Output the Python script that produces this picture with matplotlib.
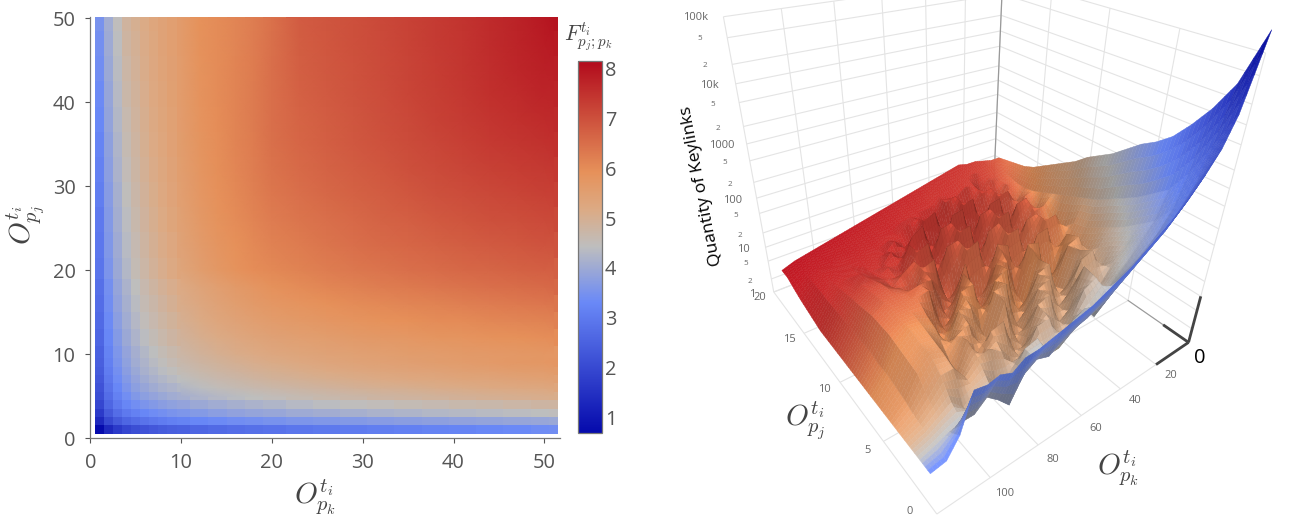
import numpy as np
import matplotlib
matplotlib.use("Agg")
import matplotlib.pyplot as plt
from matplotlib.colors import LinearSegmentedColormap, Normalize
from mpl_toolkits.mplot3d import proj3d

plt.rcParams['font.family'] = ['Open Sans', 'DejaVu Sans']
plt.rcParams['mathtext.fontset'] = 'cm'

# ---------- data: heatmap ----------
heat_x = [1,2,3,4,5,6,7,8,9,10,12,14,16,18,20,23,26,29,32,35,38,41,44,47,50,51]
heat_y = [1,2,3,4,5,6,7,8,9,10,12,14,16,18,20,23,26,29,32,35,38,41,44,47,50]
heat_f = [
[.7,1.35,1.7,1.95,2.1,2.2,2.3,2.38,2.45,2.5,2.6,2.68,2.75,2.8,2.85,2.92,2.98,3.03,3.08,3.13,3.18,3.22,3.27,3.32,3.38,3.4],
[1.35,2.0,2.35,2.6,2.75,2.87,2.97,3.05,3.12,3.18,3.27,3.34,3.4,3.45,3.5,3.56,3.6,3.65,3.7,3.74,3.78,3.82,3.86,3.9,3.93,3.95],
[1.7,2.35,2.75,3.0,3.15,3.27,3.37,3.45,3.52,3.58,3.67,3.75,3.82,3.88,3.93,4.0,4.06,4.12,4.17,4.22,4.27,4.31,4.35,4.39,4.43,4.45],
[1.95,2.6,3.0,3.25,3.42,3.55,3.65,3.74,3.81,3.87,3.97,4.05,4.12,4.18,4.24,4.32,4.39,4.45,4.5,4.55,4.6,4.65,4.69,4.74,4.78,4.8],
[2.1,2.75,3.15,3.42,3.62,3.76,3.87,3.96,4.04,4.1,4.2,4.29,4.37,4.44,4.5,4.59,4.66,4.72,4.78,4.83,4.88,4.93,4.97,5.02,5.06,5.08],
[2.2,2.87,3.27,3.55,3.76,3.92,4.03,4.13,4.21,4.28,4.39,4.49,4.57,4.64,4.7,4.79,4.86,4.93,4.99,5.04,5.09,5.14,5.19,5.23,5.27,5.29],
[2.3,2.97,3.37,3.65,3.87,4.03,4.16,4.26,4.35,4.42,4.54,4.64,4.72,4.8,4.87,4.96,5.03,5.1,5.16,5.22,5.27,5.32,5.36,5.41,5.45,5.47],
[2.38,3.05,3.45,3.74,3.96,4.13,4.26,4.38,4.47,4.55,4.67,4.77,4.86,4.94,5.01,5.1,5.18,5.25,5.31,5.37,5.42,5.47,5.52,5.57,5.61,5.63],
[2.45,3.12,3.52,3.81,4.04,4.21,4.35,4.47,4.57,4.65,4.78,4.89,4.98,5.06,5.13,5.23,5.31,5.38,5.44,5.5,5.56,5.61,5.66,5.71,5.75,5.77],
[2.5,3.18,3.58,3.87,4.1,4.28,4.42,4.55,4.65,4.74,4.88,4.99,5.09,5.17,5.25,5.33,5.4,5.46,5.52,5.57,5.61,5.65,5.68,5.71,5.74,5.75],
[2.6,3.27,3.67,3.97,4.2,4.39,4.54,4.67,4.78,4.88,5.03,5.15,5.26,5.35,5.43,5.51,5.58,5.64,5.7,5.75,5.8,5.84,5.88,5.92,5.96,5.98],
[2.68,3.34,3.75,4.05,4.29,4.49,4.64,4.77,4.89,4.99,5.15,5.3,5.41,5.51,5.6,5.69,5.76,5.83,5.89,5.94,5.99,6.03,6.08,6.12,6.16,6.18],
[2.75,3.4,3.82,4.12,4.37,4.57,4.72,4.86,4.98,5.09,5.26,5.41,5.54,5.65,5.75,5.84,5.92,5.99,6.05,6.11,6.16,6.21,6.26,6.31,6.36,6.38],
[2.8,3.45,3.88,4.18,4.44,4.64,4.8,4.94,5.06,5.17,5.35,5.51,5.65,5.77,5.88,6.0,6.1,6.17,6.24,6.3,6.36,6.42,6.47,6.52,6.57,6.59],
[2.9,3.55,3.97,4.28,4.55,4.75,4.92,5.06,5.2,5.33,5.55,5.72,5.86,5.98,6.05,6.15,6.25,6.33,6.4,6.47,6.53,6.59,6.64,6.69,6.74,6.75],
[2.95,3.6,4.02,4.33,4.6,4.8,4.98,5.12,5.26,5.4,5.62,5.79,5.93,6.05,6.17,6.28,6.38,6.48,6.56,6.63,6.7,6.77,6.83,6.88,6.94,6.95],
[3.0,3.65,4.07,4.4,4.66,4.86,5.03,5.18,5.32,5.46,5.69,5.86,6.0,6.13,6.26,6.38,6.48,6.58,6.68,6.76,6.84,6.92,6.98,7.03,7.09,7.11],
[3.08,3.7,4.12,4.46,4.71,4.91,5.08,5.23,5.37,5.51,5.74,5.91,6.06,6.2,6.34,6.48,6.59,6.69,6.79,6.88,6.97,7.05,7.12,7.18,7.24,7.26],
[3.15,3.75,4.17,4.52,4.76,4.96,5.12,5.27,5.41,5.54,5.78,5.95,6.1,6.25,6.42,6.56,6.68,6.78,6.88,6.98,7.07,7.16,7.24,7.31,7.37,7.39],
[3.22,3.8,4.22,4.58,4.8,5.0,5.16,5.3,5.44,5.57,5.81,5.97,6.13,6.28,6.46,6.62,6.74,6.85,6.96,7.06,7.16,7.26,7.35,7.43,7.5,7.52],
[3.28,3.85,4.27,4.63,4.84,5.03,5.19,5.33,5.46,5.59,5.83,5.98,6.14,6.29,6.48,6.67,6.79,6.9,7.01,7.12,7.23,7.34,7.44,7.53,7.61,7.63],
[3.34,3.9,4.32,4.7,4.88,5.06,5.22,5.35,5.48,5.6,5.85,5.99,6.14,6.29,6.48,6.71,6.83,6.94,7.05,7.17,7.28,7.4,7.52,7.62,7.71,7.73],
[3.4,3.95,4.37,4.75,4.92,5.09,5.25,5.38,5.5,5.61,5.87,6.0,6.13,6.27,6.47,6.74,6.86,6.96,7.07,7.19,7.31,7.43,7.56,7.68,7.79,7.81],
[3.45,4.0,4.41,4.8,4.96,5.12,5.27,5.4,5.51,5.62,5.88,6.0,6.12,6.26,6.46,6.77,6.88,6.98,7.09,7.21,7.33,7.44,7.58,7.72,7.86,7.89],
[3.5,4.05,4.45,4.85,5.0,5.15,5.3,5.42,5.52,5.62,5.9,6.0,6.12,6.25,6.45,6.8,6.9,7.0,7.1,7.22,7.34,7.45,7.6,7.75,7.92,8.0],
]
heat_xticks = [0,10,20,30,40,50]
heat_yticks = [0,10,20,30,40,50]
cbar_ticks = [1,2,3,4,5,6,7,8]

# ---------- data: surface ----------
surf_x = [0,5,10,15,20,25,30,35,40,45,50,55,60,65,70,75,80,85,90,95,100,105,110,116]
surf_y_front = [0,.1,.1,.2,.3,.4,.5,.6,.7,.8,.9,1,1.1,1.2,1.3,1.4,1.5,1.5,1.5,1.5,1.5,1.5,1.5,1.5]
surf_y_back = 19.5
surf_log_count = [
[5.3,4.2,3.75,3.4,3.1,2.85,2.65,2.45,2.25,2.1,1.95,1.8,1.7,1.6,1.5,1.4,1.35,1.2,1.3,1.25,1.3,.6,.25,.2],
[4.5,3.6,3.05,2.7,2.4,2.2,2.0,1.8,1.6,1.45,1.3,1.2,1.05,.85,.9,.7,.2,.45,.65,.45,.45,.4,.3,.2],
[4.05,3.05,2.5,2.15,1.9,1.7,1.55,1.3,.95,1.2,1.05,.6,.55,1.0,.9,.35,.25,.6,.55,.35,.6,.45,.3,.2],
[3.7,2.65,2.15,1.85,1.55,1.3,1.0,1.45,1.3,.7,.45,1.0,.95,.35,.3,.75,.9,.85,.6,.9,.9,.6,.35,.2],
[3.4,2.45,1.95,1.6,1.35,1.0,.85,1.5,.7,.5,1.2,1.1,.3,.35,1.05,.95,.4,1.0,.45,1.0,1.1,.85,.45,.2],
[3.2,2.25,1.75,1.45,1.05,1.5,1.4,.75,.55,1.25,1.15,.4,.35,1.15,.4,.35,1.0,.9,.7,1.05,1.1,.9,.5,.2],
[3.05,2.1,1.6,1.25,.95,1.35,.6,.55,1.3,1.2,.5,.25,1.25,1.2,.45,1.05,1.1,.45,.95,1.1,1.15,.95,.55,.2],
[2.85,1.95,1.45,1.0,1.4,1.3,.5,.4,1.25,.35,.3,1.3,1.15,.3,1.25,1.2,.45,.55,1.05,1.15,1.15,1.0,.55,.2],
[2.65,1.8,1.3,.8,1.3,.5,.45,1.35,1.4,.45,1.2,1.25,.4,.5,1.3,.4,.35,1.25,1.2,1.15,1.15,1.0,.6,.2],
[2.5,1.7,1.25,.75,.7,1.35,1.3,.55,.4,1.3,1.4,.5,.4,1.25,.5,.45,1.2,1.2,1.15,1.15,1.15,1.0,.6,.2],
[2.35,1.6,1.0,1.35,1.3,.5,.4,1.35,1.3,.4,.35,1.4,1.3,.45,.4,1.35,1.25,.75,1.05,1.15,1.1,.95,.6,.2],
[2.15,1.5,.9,.6,1.3,1.25,.45,.35,1.4,1.3,.5,.4,1.35,1.3,.5,.55,1.25,1.1,.9,1.1,1.05,.9,.6,.2],
[2.0,1.4,1.2,1.15,.6,.5,1.35,1.3,.5,.35,1.35,1.3,.5,.5,1.3,1.2,.75,.85,.9,1.0,1.0,.85,.6,.2],
[1.85,1.3,.85,1.3,1.25,.45,.45,1.35,1.3,.5,.45,1.35,1.3,.55,.6,1.2,.75,.9,.8,.9,.9,.8,.6,.2],
[1.7,1.2,1.15,.55,.5,1.3,1.25,.5,.45,1.35,1.3,.55,.5,1.3,1.15,.65,1.0,.75,.75,.8,.8,.75,.6,.25],
[1.55,1.15,.85,1.2,1.15,.55,.55,1.3,1.25,.5,.55,1.3,1.2,.6,.7,1.0,.8,.75,.7,.75,.75,.7,.6,.3],
[1.45,1.15,1.15,.75,1.2,1.15,.7,.7,1.3,1.25,.7,.75,1.1,1.05,.9,.85,.75,.75,.7,.7,.7,.7,.6,.35],
[1.4,1.2,1.1,1.2,.9,1.2,1.25,1.1,1.1,1.2,1.05,1.05,1.0,.95,.85,.85,.8,.75,.7,.7,.65,.65,.6,.42],
[1.35,1.25,1.3,1.25,1.3,1.3,1.35,1.3,1.3,1.2,1.15,1.1,1.05,1.0,.95,.9,.85,.8,.75,.7,.7,.65,.6,.5],
[1.3,1.3,1.35,1.4,1.4,1.45,1.4,1.35,1.3,1.25,1.2,1.15,1.1,1.05,1.0,.95,.9,.85,.8,.75,.7,.65,.6,.5],
]
surf_f = [
[.7,1.9,2.3,2.5,2.6,2.7,2.8,2.85,2.9,2.95,3.0,3.05,3.1,3.1,3.15,3.15,3.2,3.2,3.2,3.25,3.25,3.25,3.3,3.3],
[1.5,2.6,3.0,3.2,3.35,3.5,3.6,3.7,3.8,3.85,3.9,3.95,4.0,4.05,4.1,4.15,4.2,4.2,4.25,4.3,4.3,4.35,4.4,4.4],
[2.1,3.1,3.45,3.7,3.9,4.05,4.2,4.3,4.4,4.45,4.5,4.55,4.6,4.65,4.7,4.75,4.8,4.85,4.9,4.9,4.95,5.0,5.0,5.0],
[2.6,3.45,3.85,4.1,4.3,4.5,4.6,4.7,4.8,4.85,4.9,4.95,5.0,5.05,5.1,5.15,5.2,5.25,5.3,5.3,5.35,5.4,5.4,5.4],
[3.0,3.8,4.2,4.5,4.7,4.85,5.0,5.05,5.1,5.15,5.2,5.25,5.3,5.35,5.4,5.45,5.5,5.55,5.6,5.6,5.65,5.7,5.7,5.7],
[3.4,4.1,4.5,4.8,5.0,5.1,5.2,5.25,5.3,5.35,5.4,5.45,5.5,5.55,5.6,5.6,5.65,5.7,5.7,5.75,5.75,5.8,5.8,5.8],
[3.7,4.35,4.8,5.0,5.2,5.3,5.4,5.45,5.5,5.55,5.6,5.6,5.65,5.7,5.7,5.75,5.75,5.8,5.8,5.85,5.85,5.9,5.9,5.9],
[4.0,4.6,5.1,5.45,5.6,5.7,5.75,5.8,5.85,5.9,5.9,5.95,6.0,6.0,6.05,6.05,6.1,6.1,6.15,6.15,6.2,6.2,6.2,6.2],
[4.3,4.8,5.35,5.75,5.85,5.95,6.0,6.05,6.1,6.15,6.15,6.2,6.2,6.25,6.25,6.3,6.3,6.35,6.35,6.4,6.4,6.45,6.45,6.45],
[4.5,5.0,5.6,6.0,6.1,6.2,6.25,6.3,6.3,6.35,6.4,6.4,6.45,6.45,6.5,6.5,6.55,6.55,6.6,6.6,6.65,6.65,6.7,6.7],
[4.8,5.25,5.8,6.25,6.35,6.4,6.45,6.5,6.55,6.6,6.6,6.65,6.65,6.7,6.7,6.75,6.75,6.8,6.8,6.85,6.9,6.9,6.95,6.95],
[5.0,5.45,6.0,6.4,6.5,6.55,6.65,6.7,6.75,6.75,6.8,6.85,6.85,6.9,6.9,6.95,6.95,7.0,7.05,7.05,7.1,7.1,7.15,7.15],
[5.2,5.6,6.15,6.6,6.7,6.8,6.85,6.9,6.95,7.0,7.0,7.05,7.05,7.1,7.1,7.15,7.2,7.2,7.25,7.25,7.3,7.3,7.35,7.35],
[5.4,5.8,6.3,6.75,6.85,6.95,7.0,7.05,7.1,7.15,7.15,7.2,7.2,7.25,7.3,7.3,7.35,7.35,7.4,7.4,7.45,7.45,7.5,7.5],
[5.7,6.0,6.5,6.9,7.0,7.05,7.1,7.15,7.2,7.25,7.25,7.3,7.35,7.35,7.4,7.4,7.45,7.45,7.5,7.5,7.55,7.55,7.6,7.6],
[5.9,6.2,6.6,6.95,7.05,7.15,7.2,7.25,7.3,7.3,7.35,7.4,7.4,7.45,7.45,7.5,7.55,7.55,7.6,7.6,7.65,7.65,7.7,7.7],
[6.1,6.4,6.8,7.05,7.15,7.2,7.25,7.3,7.35,7.4,7.4,7.45,7.5,7.5,7.55,7.55,7.6,7.6,7.65,7.65,7.7,7.7,7.75,7.75],
[6.3,6.6,6.9,7.15,7.25,7.3,7.35,7.4,7.45,7.45,7.5,7.55,7.55,7.6,7.65,7.65,7.7,7.7,7.75,7.75,7.8,7.8,7.85,7.85],
[6.5,6.8,7.05,7.2,7.3,7.35,7.4,7.45,7.5,7.5,7.55,7.6,7.6,7.65,7.7,7.7,7.75,7.75,7.8,7.8,7.85,7.85,7.9,7.9],
[6.7,7.0,7.2,7.3,7.4,7.45,7.5,7.55,7.6,7.6,7.65,7.7,7.7,7.75,7.8,7.8,7.85,7.85,7.9,7.9,7.95,7.95,8.0,8.0],
]
x3_ticks = [20,40,60,80,100]
y3_ticks = [0,5,10,15,20]
z3_ticks = [1,2,5,10,20,50,100,200,500,1000,2000,5000,10000,20000,50000,100000]
z3_labels = ['1','2','5','10','2','5','100','2','5','1000','2','5','10k','2','5','100k']

W, H = 1290, 524
fig = plt.figure(figsize=(W/100, H/100), dpi=100)
def rect(l, t, r, b):
    return [l/W, 1-b/H, (r-l)/W, (b-t)/H]

cmap = LinearSegmentedColormap.from_list('rdbu_rev', [
    (0.0, (5/255,10/255,172/255)), (0.35, (106/255,137/255,247/255)),
    (0.5, (190/255,190/255,190/255)), (0.6, (220/255,170/255,132/255)),
    (0.7, (230/255,145/255,90/255)), (1.0, (178/255,10/255,28/255))], N=512)
norm = Normalize(0.7, 8.16)

def edges(c, lo, hi):
    c = np.asarray(c, float)
    return np.r_[lo, (c[1:]+c[:-1])/2, hi]

# ---------- heatmap ----------
ax = fig.add_axes(rect(90.3, 17, 560.4, 438))
F = np.array(heat_f)
mesh = ax.pcolormesh(edges(heat_x,0.5,51.5), edges(heat_y,0.5,51), F, cmap=cmap, norm=norm, linewidth=0)
ix, iy = heat_x.index(10), heat_y.index(5)
ax.pcolormesh(np.array(heat_x)[ix:], np.array(heat_y)[iy:], F[iy:, ix:], cmap=cmap, norm=norm, shading='gouraud')
ax.set_xlim(0, 51.77)
ax.set_ylim(0, 50.17)
ax.set_xticks(heat_xticks)
ax.set_yticks(heat_yticks)
ax.tick_params(labelsize=14.4, colors='#555555', length=3.6, width=0.8, pad=7)
for s in ('top','right'):
    ax.spines[s].set_visible(False)
for s in ('left','bottom'):
    ax.spines[s].set_color('#777777')
    ax.spines[s].set_linewidth(0.9)
fig.text(315/W, 1-497/H, r'$O_{p_k}^{t_i}$', fontsize=21, color='#444444', ha='center', va='center')
fig.text(26/W, 1-225/H, r'$O_{p_j}^{t_i}$', fontsize=21, color='#444444', ha='center', va='center', rotation=90)

# ---------- colorbar ----------
cax = fig.add_axes(rect(578, 60.5, 602, 432.5))
cb = fig.colorbar(mesh, cax=cax, ticks=cbar_ticks)
cb.ax.tick_params(labelsize=14.4, colors='#555555', length=0, pad=2)
cb.outline.set_edgecolor('#777777')
cb.outline.set_linewidth(0.9)
fig.text(588/W, 1-37/H, r'$F_{p_j;p_k}^{t_i}$', fontsize=15.5, color='#444444', ha='center', va='center')

# ---------- 3D ----------
XMAX, YMAX, ZMAX = 120, 20, 5
ax3 = fig.add_axes([0.5, 0.0, 0.5, 1.0], projection='3d', computed_zorder=False)
ax3.view_init(30.6628, -128.0362, -1.5259)
ax3.set_proj_type('persp', focal_length=0.2071)
bx, by, bz = 1.0137, 1.0483, 0.9910
ax3.set_box_aspect((bx, by, bz))
VL = 0.3
S, tx, ty = 3011.13, 976.14, 193.68
ax3.set_position(rect(-S*VL+tx, -S*VL+ty, S*VL+tx, S*VL+ty))

GRID = '#e4e4e4'
kw = dict(color=GRID, lw=0.8, zorder=1, solid_capstyle='butt')
zlog = np.log10(z3_ticks)
for xv in x3_ticks + [XMAX]:
    ax3.plot([xv,xv],[YMAX,YMAX],[0,ZMAX],**kw)
    ax3.plot([xv,xv],[0,YMAX],[0,0],**kw)
for yv in y3_ticks:
    ax3.plot([0,0],[yv,yv],[0,ZMAX],**kw)
    ax3.plot([0,XMAX],[yv,yv],[0,0],**kw)
for zv in zlog:
    ax3.plot([0,XMAX],[YMAX,YMAX],[zv,zv],**kw)
    ax3.plot([0,0],[0,YMAX],[zv,zv],**kw)
ax3.plot([0,0],[YMAX,YMAX],[0,ZMAX],color='#999999',lw=0.9,zorder=1.5)
ax3.plot([0,0],[0,YMAX/4],[0,0],color='#999999',lw=0.8,zorder=1.5)
for seg in ([(0,0,0),(20,0,0)],[(0,0,0),(0,2,0)],[(0,0,0),(0,0,1)]):
    a = np.array(seg).T
    ax3.plot(a[0],a[1],a[2],color='#444444',lw=2,zorder=1.6,solid_capstyle='butt')

# surface with per-vertex colour: each facet is split so the colour ramps across it
def split(A, n=4):
    A = np.asarray(A, float)
    r = np.arange(0, A.shape[0]-1+1e-9, 1/n)
    c = np.arange(0, A.shape[1]-1+1e-9, 1/n)
    r0 = np.minimum(r.astype(int), A.shape[0]-2); c0 = np.minimum(c.astype(int), A.shape[1]-2)
    fr = (r-r0)[:,None]; fc = (c-c0)[None,:]
    a = A[np.ix_(r0,c0)]; b = A[np.ix_(r0,c0+1)]; d = A[np.ix_(r0+1,c0)]; e = A[np.ix_(r0+1,c0+1)]
    return a*(1-fr)*(1-fc)+b*(1-fr)*fc+d*fr*(1-fc)+e*fr*fc

nrows = len(surf_log_count)
front = np.array(surf_y_front)
SX = np.tile(np.array(surf_x, float), (nrows, 1))
SY = np.array([front + (surf_y_back-front)*r/(nrows-1) for r in range(nrows)])
RX, RY, RZ, RF = split(SX), split(SY), split(surf_log_count), split(surf_f)
PX, PY, PZ = RX/XMAX*bx, RY/YMAX*by, RZ/ZMAX*bz
d1 = np.stack([PX[1:,1:]-PX[:-1,:-1], PY[1:,1:]-PY[:-1,:-1], PZ[1:,1:]-PZ[:-1,:-1]], -1)
d2 = np.stack([PX[:-1,1:]-PX[1:,:-1], PY[:-1,1:]-PY[1:,:-1], PZ[:-1,1:]-PZ[1:,:-1]], -1)
nrm = np.cross(d1, d2)
nrm /= np.linalg.norm(nrm, axis=-1, keepdims=True)+1e-12
nrm *= np.sign(nrm[...,2:3]+1e-12)
light = np.array([0.2,-0.25,1.0]); light /= np.linalg.norm(light)
lam = np.clip((nrm*light).sum(-1), 0, 1)
Fc = 0.25*(RF[1:,1:]+RF[:-1,:-1]+RF[1:,:-1]+RF[:-1,1:])
base = np.interp(Fc, [3, 5], [0.78, 0.52])
shade = np.clip(base+0.6*lam, 0, 1.06)
cols = cmap(norm(Fc))
cols[...,:3] = np.clip(cols[...,:3]*shade[...,None], 0, 1)
ax3.plot_surface(RX, RY, RZ, facecolors=cols, rstride=1, cstride=1, shade=False,
                 linewidth=0.3, antialiased=True, zorder=3)

ax3.set_xticks([]); ax3.set_yticks([]); ax3.set_zticks([])
ax3.set_axis_off()
ax3.patch.set_visible(False)
ax3.set_xlim(XMAX, 0); ax3.set_ylim(0, YMAX); ax3.set_zlim(0, ZMAX)
ax3.viewLim.intervalx = (-VL, VL)
ax3.viewLim.intervaly = (-VL, VL)

# tick labels: data positions pushed through the axes' own projection, drawn as flat text
TICK = '#666666'
M3 = ax3.get_proj()
def label3(xv, yv, zv, s, size):
    px, py, _ = proj3d.proj_transform(xv, yv, zv, M3)
    ax3.text2D(px, py, s, transform=ax3.transData, fontsize=size, color=TICK,
               ha='center', va='center', zorder=6)
for xv in x3_ticks:
    label3(xv, -1.1, 0, str(xv), 8)
for yv in y3_ticks:
    label3(126, max(yv, 0.9), 0, str(yv), 8)
for zv, lab in zip(zlog, z3_labels):
    label3(128, 20.6, zv, lab, 5.8 if lab in ('2','5') else 8)

fig.text(1200/W, 1-358/H, '0', fontsize=14.5, color='black', ha='center', va='center')
fig.text(702/W, 1-186/H, 'Quantity of Keylinks', fontsize=12.6, color='black', ha='center', va='center', rotation=101)
fig.text(805/W, 1-421/H, r'$O_{p_j}^{t_i}$', fontsize=21, color='#444444', ha='center', va='center')
fig.text(1118/W, 1-468/H, r'$O_{p_k}^{t_i}$', fontsize=21, color='#444444', ha='center', va='center')

fig.savefig('out.png', dpi=100)
